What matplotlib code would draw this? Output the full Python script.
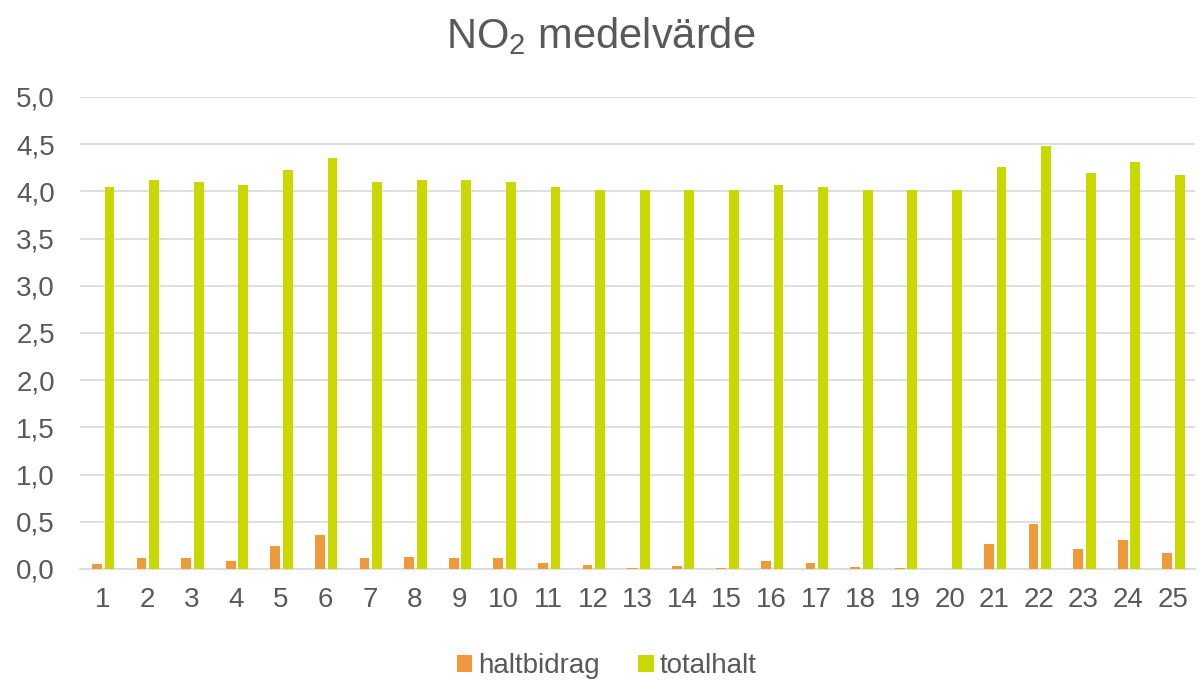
import matplotlib
matplotlib.use("Agg")
import matplotlib.pyplot as plt
import numpy as np
from matplotlib.ticker import FuncFormatter, MultipleLocator

plt.rcParams['font.family'] = ['Liberation Sans', 'DejaVu Sans']
plt.rcParams['mathtext.fontset'] = 'custom'
plt.rcParams['mathtext.rm'] = 'Liberation Sans'
plt.rcParams['mathtext.it'] = 'Liberation Sans'

categories = [str(i) for i in range(1, 26)]
haltbidrag = [0.05, 0.12, 0.12, 0.08, 0.24, 0.36, 0.12, 0.13, 0.12, 0.12,
              0.06, 0.04, 0.01, 0.03, 0.01, 0.08, 0.06, 0.02, 0.01, 0.0,
              0.27, 0.48, 0.21, 0.31, 0.17]
totalhalt = [4.05, 4.12, 4.10, 4.07, 4.23, 4.35, 4.10, 4.12, 4.12, 4.10,
             4.05, 4.02, 4.01, 4.02, 4.01, 4.07, 4.05, 4.01, 4.01, 4.01,
             4.26, 4.48, 4.20, 4.31, 4.17]

orange = '#EE9A3A'
green = '#C8D800'
text_col = '#595959'

fig = plt.figure(figsize=(12.01, 6.87), dpi=100)
ax = fig.add_axes([80/1201, 118/687, 1115/1201, 472/687])

x = np.arange(1, len(categories) + 1)
w = 0.22
ax.bar(x - 0.12, haltbidrag, width=w, color=orange, label='haltbidrag', zorder=3)
ax.bar(x + 0.16, totalhalt, width=w, color=green, label='totalhalt', zorder=3)

ax.set_xlim(0.5, len(categories) + 0.5)
ax.set_ylim(0, 5.0)
ax.yaxis.set_major_locator(MultipleLocator(0.5))
ax.yaxis.set_major_formatter(FuncFormatter(lambda v, p: f"{v:.1f}".replace('.', ',')))
ax.set_xticks(x)
ax.set_xticklabels(categories)
ax.grid(axis='y', color='#D9D9D9', linewidth=1.2, zorder=0)
for s in ['top', 'right', 'left']:
    ax.spines[s].set_visible(False)
ax.spines['bottom'].set_color('#D9D9D9')
ax.spines['bottom'].set_linewidth(1.2)
ax.tick_params(axis='both', length=0, labelsize=20, colors=text_col, pad=13)
ax.tick_params(axis='y', pad=18)

fig.text(0.5, 0.948, 'NO$_2$ medelvärde', ha='center', va='center', fontsize=30, color=text_col)

leg = fig.legend(loc='center', bbox_to_anchor=(0.505, 0.03), ncol=2, frameon=False,
                 fontsize=20, handlelength=0.55, handleheight=0.55, handletextpad=0.2,
                 columnspacing=1.4, labelcolor=text_col)

fig.savefig('out.png', dpi=100)
